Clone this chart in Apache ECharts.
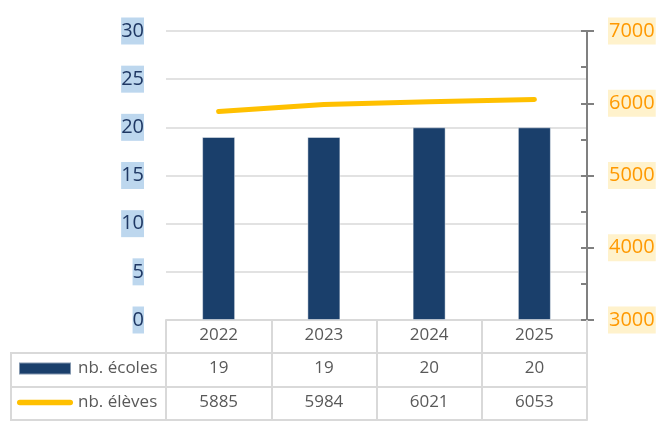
<!DOCTYPE html>
<html>
<head>
<meta charset="utf-8">
<script src="https://cdn.jsdelivr.net/npm/echarts@6/dist/echarts.min.js"></script>
<style>
  html, body { margin: 0; padding: 0; background: #fff; }
  #chart { width: 671px; height: 437px; }
</style>
</head>
<body>
<div id="chart"></div>
<script>
// Years shown along the bottom and in the data table header
const years = ['2022', '2023', '2024', '2025'];
// Number of schools (bars, left axis)
const ecoles = [19, 19, 20, 20];
// Number of pupils (line, right axis)
const eleves = [5885, 5984, 6021, 6053];

const FONT = '"Open Sans", "Noto Sans", sans-serif';
const TABLE_LINE = { color: '#d9d9d9', width: 2 };
const TEXT_GREY = '#595959';
// thick rounded stroke used as the legend key of the line series
const LINE_KEY = 'path://M2.75,0 L53.25,0 A2.75,2.75 0 0 1 53.25,5.5 L2.75,5.5 A2.75,2.75 0 0 1 2.75,0 Z';

const chart = echarts.init(document.getElementById('chart'), null, { renderer: 'canvas' });

const option = {
  animation: false,
  backgroundColor: '#ffffff',
  textStyle: { fontFamily: FONT },
  grid: { left: 166, right: 84, top: 31, bottom: 117, containLabel: false },
  legend: {
    orient: 'vertical',
    left: 17,
    top: 360,
    padding: 0,
    itemWidth: 56,
    itemHeight: 12,
    itemGap: 17,
    selectedMode: false,
    textStyle: { fontSize: 17, color: TEXT_GREY, fontFamily: FONT },
    data: [
      { name: 'nb. écoles', icon: 'path://M0,0 L52,0 L52,12 L0,12 Z' },
      { name: 'nb. élèves', icon: LINE_KEY, itemStyle: { color: '#FFC000' } }
    ]
  },
  xAxis: [
    {
      // header row of the table: years, with cell borders drawn by the ticks
      type: 'category',
      data: years,
      position: 'bottom',
      axisLine: { show: true, lineStyle: TABLE_LINE },
      axisTick: { show: true, length: 100, lineStyle: TABLE_LINE },
      axisLabel: { color: TEXT_GREY, fontSize: 17, margin: 7, fontFamily: FONT },
      splitLine: { show: false }
    },
    {
      // row: number of schools
      type: 'category',
      data: years,
      position: 'bottom',
      offset: 33,
      axisLine: { show: true, lineStyle: TABLE_LINE },
      axisTick: { show: false },
      axisLabel: {
        color: TEXT_GREY, fontSize: 17, margin: 7, fontFamily: FONT,
        formatter: (v, i) => String(ecoles[i])
      },
      splitLine: { show: false }
    },
    {
      // row: number of pupils
      type: 'category',
      data: years,
      position: 'bottom',
      offset: 67,
      axisLine: { show: true, lineStyle: TABLE_LINE },
      axisTick: { show: false },
      axisLabel: {
        color: TEXT_GREY, fontSize: 17, margin: 7, fontFamily: FONT,
        formatter: (v, i) => String(eleves[i])
      },
      splitLine: { show: false }
    },
    {
      // bottom border of the table
      type: 'category',
      data: years,
      position: 'bottom',
      offset: 100,
      axisLine: { show: true, lineStyle: TABLE_LINE },
      axisTick: { show: false },
      axisLabel: { show: false },
      splitLine: { show: false }
    }
  ],
  yAxis: [
    {
      type: 'value',
      min: 0, max: 30, interval: 5,
      axisLine: { show: false },
      axisTick: { show: false },
      splitLine: { show: true, lineStyle: { color: '#d9d9d9', width: 1.5 } },
      axisLabel: {
        color: '#1F3864', fontSize: 20, fontFamily: FONT,
        backgroundColor: '#BDD7EE', padding: [3, 0, 3, 0], lineHeight: 21, margin: 22,
        formatter: v => String(v)
      }
    },
    {
      type: 'value',
      position: 'right',
      min: 3000, max: 7000, interval: 1000,
      axisLine: { show: true, lineStyle: { color: '#808080', width: 2 } },
      axisTick: { show: true, inside: false, length: 7, lineStyle: { color: '#808080', width: 2 } },
      splitLine: { show: false },
      axisLabel: {
        color: '#FF9900', fontSize: 20, fontFamily: FONT,
        backgroundColor: '#FFF2CC', padding: [3, 1, 3, 1], lineHeight: 21, margin: 21,
        formatter: v => String(v)
      }
    },
    {
      // inner ticks every 500 on the right axis
      type: 'value',
      position: 'right',
      min: 3000, max: 7000, interval: 500,
      axisLine: { show: false },
      axisTick: { show: true, inside: true, length: 6, lineStyle: { color: '#808080', width: 2 } },
      splitLine: { show: false },
      axisLabel: { show: false }
    }
  ],
  series: [
    {
      name: 'nb. écoles',
      type: 'bar',
      xAxisIndex: 0,
      yAxisIndex: 0,
      data: ecoles,
      barWidth: 33,
      itemStyle: { color: '#1A3F6B', borderColor: 'rgba(255,255,255,0.45)', borderWidth: 1 },
      z: 2
    },
    {
      name: 'nb. élèves',
      type: 'line',
      xAxisIndex: 0,
      yAxisIndex: 1,
      data: eleves,
      symbol: 'none',
      lineStyle: { color: '#FFC000', width: 5, cap: 'round', join: 'round' },
      itemStyle: { color: '#FFC000' },
      z: 3
    }
  ],
  graphic: [
    // legend column of the table
    { type: 'line', shape: { x1: 11, y1: 353, x2: 166, y2: 353 }, style: { stroke: '#d9d9d9', lineWidth: 2 } },
    { type: 'line', shape: { x1: 11, y1: 387, x2: 166, y2: 387 }, style: { stroke: '#d9d9d9', lineWidth: 2 } },
    { type: 'line', shape: { x1: 11, y1: 420, x2: 166, y2: 420 }, style: { stroke: '#d9d9d9', lineWidth: 2 } },
    { type: 'line', shape: { x1: 11, y1: 352, x2: 11, y2: 421 }, style: { stroke: '#d9d9d9', lineWidth: 2 } }
  ]
};

chart.setOption(option);
</script>
</body>
</html>
